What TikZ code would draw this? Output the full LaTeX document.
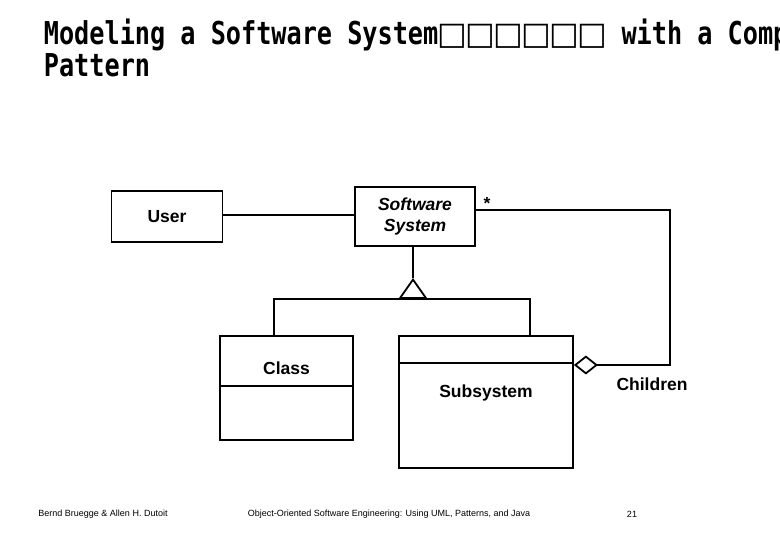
\documentclass[tikz,border=0pt]{standalone}
\usepackage{fontspec}
\setmainfont{Liberation Sans}
\newfontfamily\titlefont[FakeStretch=0.8]{DejaVu Sans Mono}
\newfontfamily\boxfont{DejaVu Sans}
\usetikzlibrary{arrows.meta,positioning}

\newcommand{\tofu}{\makebox[28pt]{\boxfont □}}

\begin{document}
\begin{tikzpicture}[x=1pt,y=-1pt,line width=1.8pt,
    classbox/.style={draw,inner sep=0pt,align=center,font=\bfseries\fontsize{17.5}{21}\selectfont},
    lbl/.style={inner sep=0pt,font=\bfseries\fontsize{17.5}{21}\selectfont},
    foot/.style={inner sep=0pt,font=\fontsize{9}{11}\selectfont}]
    \useasboundingbox (0,0) rectangle (780,540);
    \clip (0,0) rectangle (780,540);

    % title
    \node[anchor=base west,inner sep=0pt,font=\titlefont\bfseries\fontsize{31.5}{36}\selectfont] (title) at (43,45) {Modeling a Software System\tofu\tofu\tofu\tofu\tofu\tofu{} with a Comp};
    \node[anchor=base west,inner sep=0pt,font=\titlefont\bfseries\fontsize{31.5}{36}\selectfont] (title2) at (43,77) {Pattern};

    % classes
    \node[classbox,minimum width=111pt,minimum height=51pt] (user) at (167,216.5) {User};
    \node[classbox,minimum width=120pt,minimum height=59pt,font=\bfseries\itshape\fontsize{17.5}{21}\selectfont] (ssys) at (415,216.5) {Software\\System};
    \node[classbox,minimum width=133pt,minimum height=104pt] (cls) at (286.5,388) {};
    \node[classbox,minimum width=174pt,minimum height=132pt] (sub) at (486,402) {};
    \draw ([yshift=-51pt]cls.north west) -- ([yshift=-51pt]cls.north east);
    \draw ([yshift=-28pt]sub.north west) -- ([yshift=-28pt]sub.north east);
    \node[lbl] (clsname) at (286.5,368) {Class};
    \node[lbl] (subname) at (486,393) {Subsystem};

    % association
    \draw ([yshift=1.5pt]user.east) -- ([yshift=1.5pt]ssys.west);

    % inheritance
    \coordinate (apex) at (413,278);
    \coordinate (gen) at (413,299);
    \draw (ssys.south -| apex) -- (apex);
    \draw[-{Triangle[open,length=21pt,width=29pt]}] (gen) -- (apex);
    \draw ([xshift=-12.5pt]cls.north) |- (gen) -| ([xshift=44pt]sub.north);

    % aggregation
    \coordinate (corner) at (670,365);
    \draw[-{Diamond[open,length=24pt,width=19pt]}] ([yshift=6.5pt]ssys.east) -| (corner) -- (corner -| sub.east);
    \node[lbl] (mult) at (487,203) {*};
    \node[lbl] (role) at (652,384) {Children};

    % footer
    \node[foot] (authors) at (103,514) {Bernd Bruegge \& Allen H. Dutoit};
    \node[foot] (book) at (389,514) {Object-Oriented Software Engineering: Using UML, Patterns, and Java};
    \node[foot] (pagenum) at (632,514) {21};
\end{tikzpicture}
\end{document}
